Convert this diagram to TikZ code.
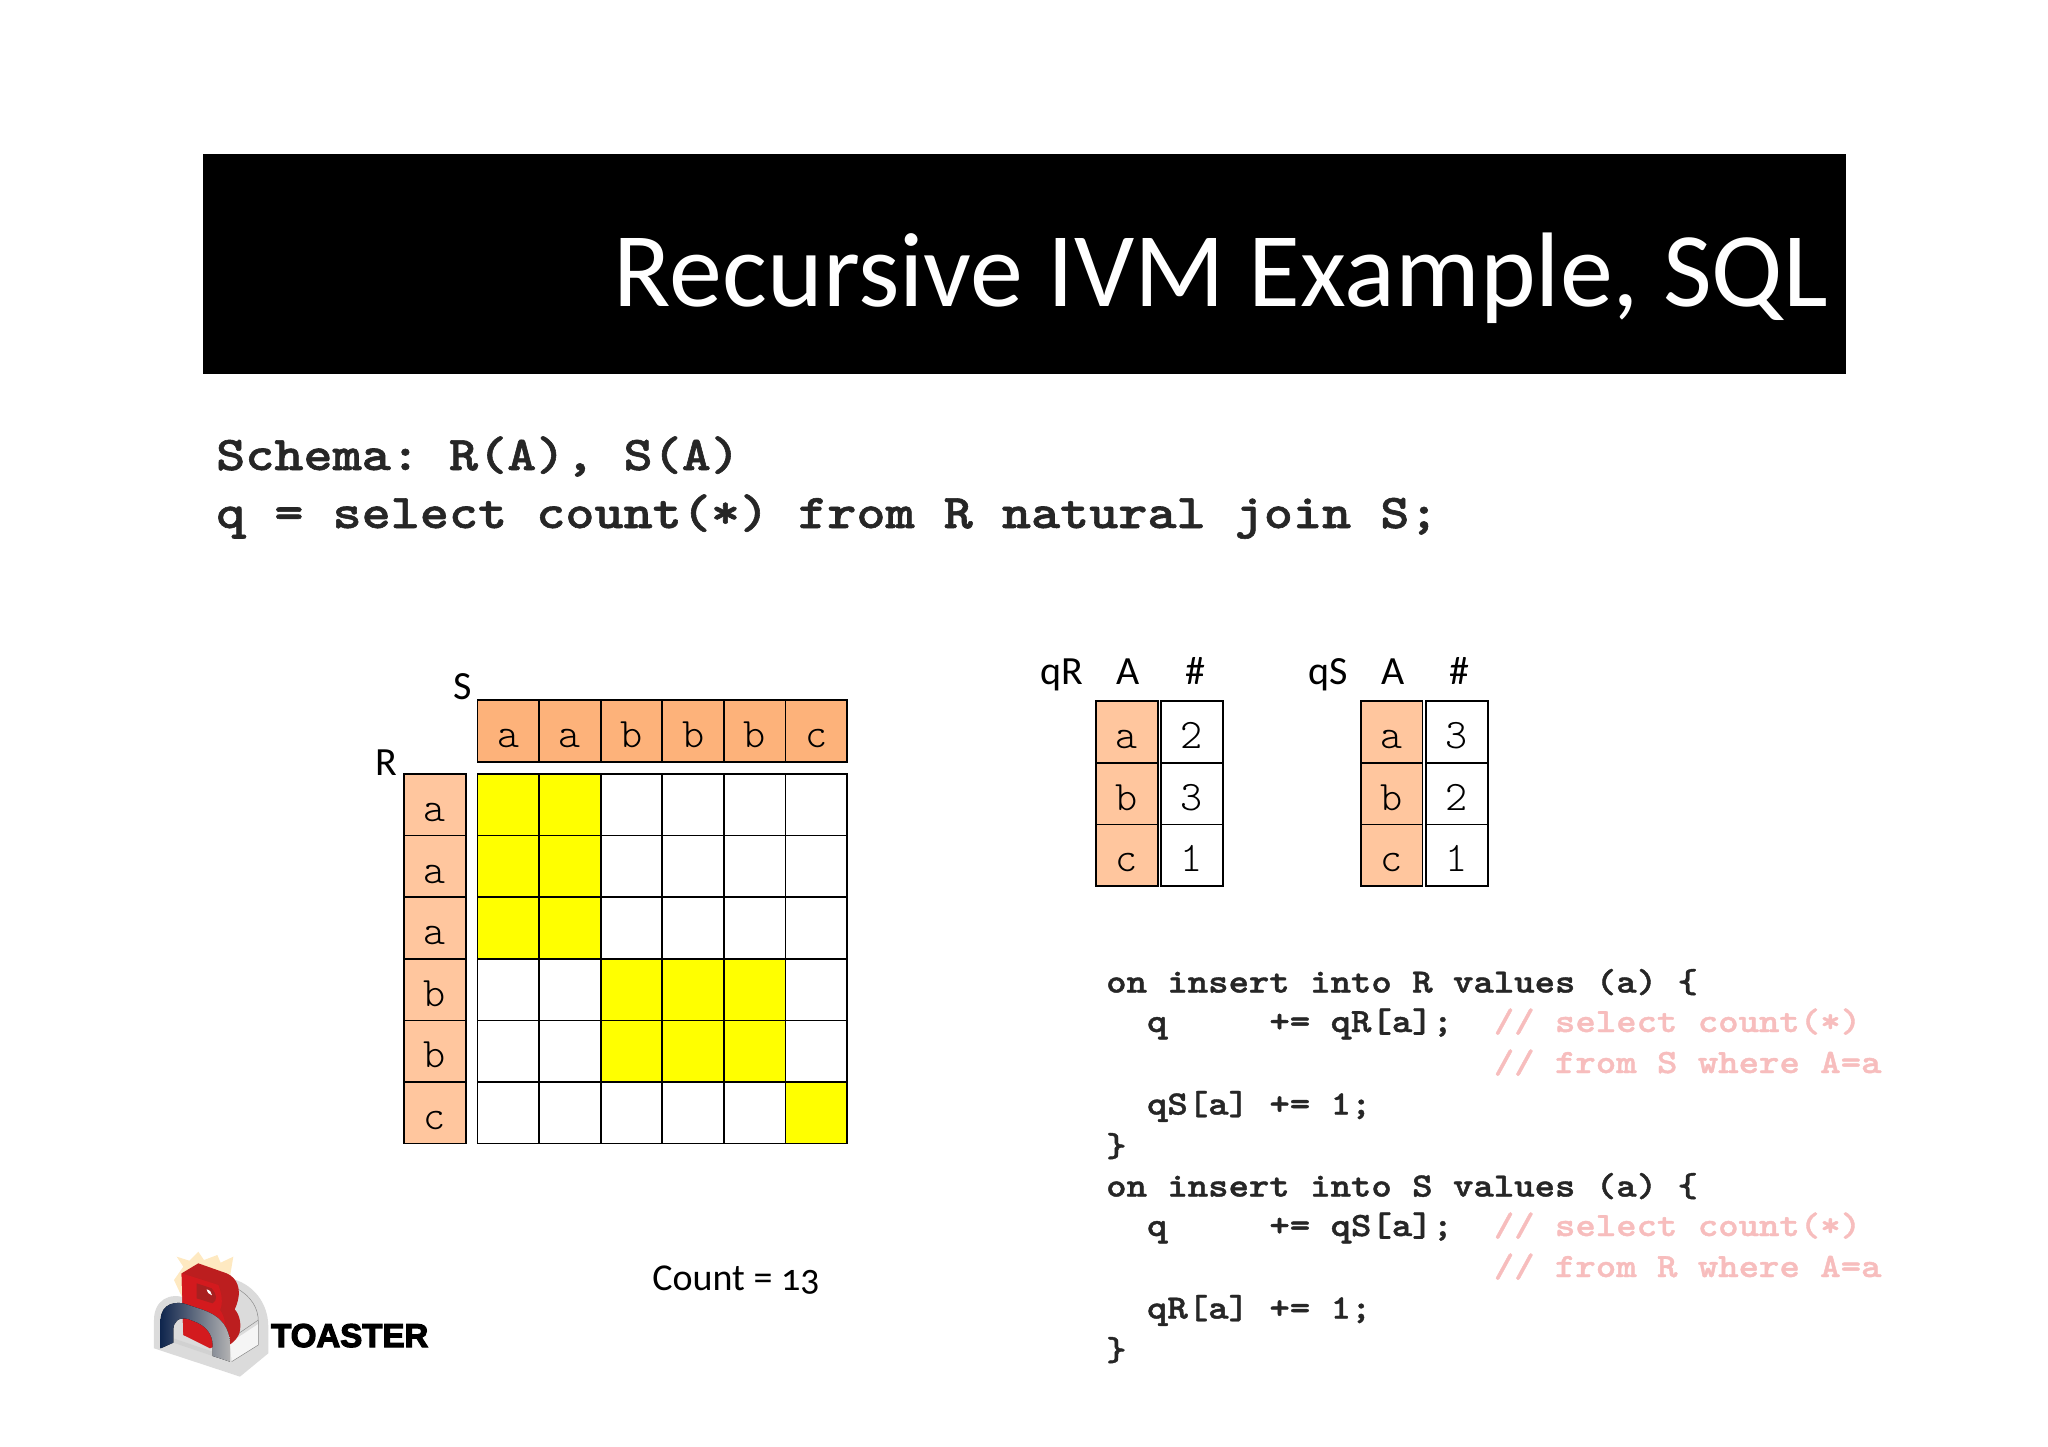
\documentclass[tikz,border=0pt]{standalone}
\usepackage{fontspec}
\usepackage{tikz}
\setmainfont{Carlito}[Numbers=OldStyle]
\newfontfamily\cellfont{Latin Modern Mono Light}
\newfontfamily\codefont{lmmonolt10-bold.otf}[FakeStretch=1.143, FakeBold=1.2]
\newfontfamily\logofont{Liberation Sans}
\definecolor{headS}{HTML}{FDB27A}
\definecolor{headR}{HTML}{FFC69E}
\definecolor{hitY}{HTML}{FFFF00}
\definecolor{cmt}{HTML}{F7BDBD}
\definecolor{navy}{HTML}{10264E}
\definecolor{redA}{HTML}{D31A1E}
\definecolor{redB}{HTML}{BC1E1F}
\definecolor{redC}{HTML}{A82020}

\tikzset{
  cell/.style = {draw, line width=1.7pt, minimum size=61.6pt, inner sep=0pt, text height=33.5pt, text depth=0pt, font=\fontsize{42}{42}\cellfont},
  headS/.style = {cell, fill=headS},
  headR/.style = {cell, fill=headR},
  hit/.style = {cell, fill=hitY},
  label/.style = {inner sep=0pt, anchor=base, font=\fontsize{40}{40}\selectfont},
  code/.style = {inner sep=0pt, anchor=base west, font=\fontsize{34}{34}\codefont, text=black!85},
  schema/.style = {inner sep=0pt, anchor=base west, font=\fontsize{48.5}{50}\codefont, text=black!85}
}

\begin{document}
\begin{tikzpicture}[x=1pt, y=-1pt, node distance=61.6pt]
  \useasboundingbox (0,0) rectangle (2048,1447);

  \node[fill=black, minimum width=1643pt, minimum height=219pt, inner sep=0pt] (banner) at (1024,264) {};
  \node[inner sep=0pt, anchor=base east, text=white, font=\fontsize{106}{106}\selectfont] (title) at (1828,306) {Recursive IVM Example, SQL};

  \node[schema] (schema) at (216,470) {Schema:~R(A),~S(A)};
  \node[schema] (query) at (216,528) {q = select count(*) from R natural join S;};

  % S header
  \node[headS] (s1) at (508.3,731) {a};
  \node[headS] (s2) [right of=s1] {a};
  \node[headS] (s3) [right of=s2] {b};
  \node[headS] (s4) [right of=s3] {b};
  \node[headS] (s5) [right of=s4] {b};
  \node[headS] (s6) [right of=s5] {c};
  \node[label] (sname) at (463,699) {S};

  % grid
  \node[hit] (g11) at (508.3,804.8) {};
  \node[hit] (g12) [right of=g11] {};
  \node[cell] (g13) [right of=g12] {};
  \node[cell] (g14) [right of=g13] {};
  \node[cell] (g15) [right of=g14] {};
  \node[cell] (g16) [right of=g15] {};
  \node[hit] (g21) [below of=g11] {};
  \node[hit] (g22) [right of=g21] {};
  \node[cell] (g23) [right of=g22] {};
  \node[cell] (g24) [right of=g23] {};
  \node[cell] (g25) [right of=g24] {};
  \node[cell] (g26) [right of=g25] {};
  \node[hit] (g31) [below of=g21] {};
  \node[hit] (g32) [right of=g31] {};
  \node[cell] (g33) [right of=g32] {};
  \node[cell] (g34) [right of=g33] {};
  \node[cell] (g35) [right of=g34] {};
  \node[cell] (g36) [right of=g35] {};
  \node[cell] (g41) [below of=g31] {};
  \node[cell] (g42) [right of=g41] {};
  \node[hit] (g43) [right of=g42] {};
  \node[hit] (g44) [right of=g43] {};
  \node[hit] (g45) [right of=g44] {};
  \node[cell] (g46) [right of=g45] {};
  \node[cell] (g51) [below of=g41] {};
  \node[cell] (g52) [right of=g51] {};
  \node[hit] (g53) [right of=g52] {};
  \node[hit] (g54) [right of=g53] {};
  \node[hit] (g55) [right of=g54] {};
  \node[cell] (g56) [right of=g55] {};
  \node[cell] (g61) [below of=g51] {};
  \node[cell] (g62) [right of=g61] {};
  \node[cell] (g63) [right of=g62] {};
  \node[cell] (g64) [right of=g63] {};
  \node[cell] (g65) [right of=g64] {};
  \node[hit] (g66) [right of=g65] {};

  % R header
  \node[headR] (r1) at (435,804.8) {a};
  \node[headR] (r2) [below of=r1] {a};
  \node[headR] (r3) [below of=r2] {a};
  \node[headR] (r4) [below of=r3] {b};
  \node[headR] (r5) [below of=r4] {b};
  \node[headR] (r6) [below of=r5] {c};
  \node[label] (rname) at (386.5,775) {R};

  \node[label, font=\fontsize{38}{38}\selectfont] (count) at (736,1290) {Count = 13};

  % qR table
  \node[label] (qRname) at (1062,684) {qR};
  \node[label] (qRa) at (1128,684) {A};
  \node[label] (qRn) at (1195,684) {\#};
  \node[headR] (qa1) at (1127,732) {a};
  \node[headR] (qa2) [below of=qa1] {b};
  \node[headR] (qa3) [below of=qa2] {c};
  \node[cell] (qn1) at (1192,732) {2};
  \node[cell] (qn2) [below of=qn1] {3};
  \node[cell] (qn3) [below of=qn2] {1};

  % qS table
  \node[label] (qSname) at (1328,684) {qS};
  \node[label] (qSa) at (1393,684) {A};
  \node[label] (qSn) at (1459,684) {\#};
  \node[headR] (pa1) at (1391.7,732) {a};
  \node[headR] (pa2) [below of=pa1] {b};
  \node[headR] (pa3) [below of=pa2] {c};
  \node[cell] (pn1) at (1457,732) {3};
  \node[cell] (pn2) [below of=pn1] {2};
  \node[cell] (pn3) [below of=pn2] {1};

  % triggers
  \node[code] (c1) at (1106,992.5) {on insert into R values (a) \{};
  \node[code] (c2) at (1106,1032) {~~q~~~~~+= qR[a];~~\textcolor{cmt}{// select count(*)}};
  \node[code] (c3) at (1106,1073) {~~~~~~~~~~~~~~~~~~~\textcolor{cmt}{// from S where A=a}};
  \node[code] (c4) at (1106,1114.5) {~~qS[a] += 1;};
  \node[code] (c5) at (1106,1156.5) {\}};
  \node[code] (c6) at (1106,1196.5) {on insert into S values (a) \{};
  \node[code] (c7) at (1106,1236) {~~q~~~~~+= qS[a];~~\textcolor{cmt}{// select count(*)}};
  \node[code] (c8) at (1106,1277) {~~~~~~~~~~~~~~~~~~~\textcolor{cmt}{// from R where A=a}};
  \node[code] (c9) at (1106,1318.5) {~~qR[a] += 1;};
  \node[code] (c10) at (1106,1360.5) {\}};

  % logo, in crop units
  \begin{scope}[shift={(130,1220)}, x=0.3333pt, y=-0.3333pt]
    \fill[yellow!30!orange!22] (140,110) -- (178,122) -- (205,95) -- (222,120) -- (262,105) -- (272,128) -- (310,110) -- (300,170) -- (322,215) -- (160,240) -- (132,180) -- (160,140) -- cycle;
    \fill[black!14] (300,175) .. controls (370,190) and (415,250) .. (415,320) -- (415,400) -- (330,470) -- (72,385) -- (72,300) .. controls (72,240) and (120,215) .. (170,235) -- cycle;
    \fill[black!4] (305,425) -- (385,375) -- (385,312) -- (300,368) -- cycle;
    \draw[black!45, line width=0.5pt] (320,205) .. controls (365,230) and (385,265) .. (385,305) -- (385,375) -- (305,425);
    \draw[black!45, line width=0.5pt] (385,300) -- (290,365);
    \fill[redB] (155,160) -- (205,130) -- (290,160) .. controls (325,175) and (330,210) .. (325,235) .. controls (322,250) and (318,260) .. (314,268) .. controls (330,285) and (335,315) .. (328,340) .. controls (318,365) and (295,380) .. (270,385) -- (160,345) -- cycle;
    \fill[redA] (155,160) -- (265,195) .. controls (275,220) and (280,250) .. (270,270) .. controls (285,290) and (290,320) .. (285,365) -- (240,385) -- (160,345) -- cycle;
    \fill[redC] (200,190) -- (245,205) .. controls (262,225) and (262,240) .. (248,250) -- (200,235) -- cycle;
    \fill[white] (230,208) .. controls (240,210) and (245,218) .. (246,226) .. controls (238,224) and (232,218) .. (230,208) -- cycle;
    \fill[black!18] (130,355) -- (248,395) -- (248,408) -- (130,368) -- cycle;
    \fill[left color=navy, right color=black!30] (92,385) -- (92,300) .. controls (92,250) and (140,240) .. (175,255) -- (220,270) .. controls (275,290) and (300,325) .. (300,375) -- (300,425) -- (248,408) -- (248,375) .. controls (248,340) and (225,315) .. (190,303) -- (175,297) .. controls (145,290) and (130,305) .. (130,330) -- (130,368) -- cycle;
  \end{scope}
  \node[inner sep=0pt, anchor=base west, font=\fontsize{33}{33}\logofont\bfseries] (toaster) at (271,1347) {\special{pdf:code 0 G 1.2 w 2 Tr}TOASTER\special{pdf:code 0 Tr}};
\end{tikzpicture}
\end{document}
